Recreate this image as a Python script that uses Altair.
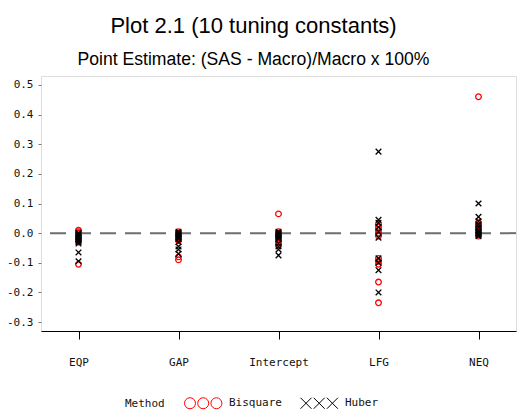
import altair as alt
import pandas as pd

parameters = ["EQP", "GAP", "Intercept", "LFG", "NEQ"]
methods = ["Bisquare", "Huber"]

# 10 tuning constants per parameter and method
bisquare_eqp = [0.01, 0.005, 0.0, -0.005, -0.01, -0.015, -0.02, -0.02, -0.03, -0.105]
huber_eqp = [0.0, -0.005, -0.01, -0.015, -0.02, -0.025, -0.03, -0.035, -0.065, -0.095]
bisquare_gap = [0.005, 0.0, -0.005, -0.01, -0.01, -0.015, -0.02, -0.025, -0.08, -0.09]
huber_gap = [0.005, 0.0, -0.005, -0.01, -0.015, -0.02, -0.03, -0.045, -0.055, -0.07]
bisquare_int = [0.065, 0.005, 0.0, -0.005, -0.005, -0.01, -0.015, -0.02, -0.03, -0.04]
huber_int = [0.005, 0.0, -0.005, -0.01, -0.015, -0.02, -0.035, -0.045, -0.055, -0.075]
bisquare_lfg = [0.03, 0.02, 0.01, 0.0, -0.01, -0.085, -0.095, -0.105, -0.165, -0.235]
huber_lfg = [0.275, 0.045, 0.035, 0.02, 0.005, -0.015, -0.085, -0.1, -0.125, -0.2]
bisquare_neq = [0.46, 0.035, 0.025, 0.02, 0.015, 0.01, 0.005, 0.0, -0.005, -0.01]
huber_neq = [0.1, 0.055, 0.04, 0.03, 0.02, 0.01, 0.005, 0.0, -0.005, -0.01]

y_ticks = [-0.3, -0.2, -0.1, 0.0, 0.1, 0.2, 0.3, 0.4, 0.5]

series = {
    ("EQP", "Bisquare"): bisquare_eqp, ("EQP", "Huber"): huber_eqp,
    ("GAP", "Bisquare"): bisquare_gap, ("GAP", "Huber"): huber_gap,
    ("Intercept", "Bisquare"): bisquare_int, ("Intercept", "Huber"): huber_int,
    ("LFG", "Bisquare"): bisquare_lfg, ("LFG", "Huber"): huber_lfg,
    ("NEQ", "Bisquare"): bisquare_neq, ("NEQ", "Huber"): huber_neq,
}
rows = []
for (p, m), vals in series.items():
    for v in vals:
        rows.append({"Parameter": p, "Method": m, "Value": v})
df = pd.DataFrame(rows)

MONO = "DejaVu Sans Mono"
X_PATH = "M-1,-1L1,1M-1,1L1,-1"
CIRC3 = ("M-1,0A1,1 0 1,0 1,0A1,1 0 1,0 -1,0"
         "M1.4,0A1,1 0 1,0 3.4,0A1,1 0 1,0 1.4,0"
         "M3.8,0A1,1 0 1,0 5.8,0A1,1 0 1,0 3.8,0")
X3 = ("M-1,-1L1,1M-1,1L1,-1"
      "M1.4,-1L3.4,1M1.4,1L3.4,-1"
      "M3.8,-1L5.8,1M3.8,1L5.8,-1")

ydom = [-0.33, 0.53]
colors = ["#ff0000", "#000000"]

y_scale = alt.Scale(domain=ydom, nice=False, zero=False)
y_axis = alt.Axis(title=None, values=y_ticks, grid=False, domain=False,
                  tickSize=3, tickColor="#777", labelOverlap=False,
                  labelExpr="replace(format(datum.value, '.1f'), '\u2212', '-')",
                  labelPadding=5, labelFont=MONO, labelFontSize=11,
                  labelColor="#111")

x_enc = alt.X("Parameter:N", sort=parameters,
              scale=alt.Scale(type="point", padding=0.375),
              axis=alt.Axis(title=None, labelAngle=0, tickSize=8, tickColor="black",
                            domainColor="black", domainWidth=1, labelPadding=17,
                            labelFont=MONO, labelFontSize=11, labelColor="#111"))
y_enc = alt.Y("Value:Q", scale=y_scale, axis=y_axis)

leg = alt.Legend(
    orient="none", legendX=84, legendY=321, direction="horizontal",
    title="Method", titleOrient="left", titlePadding=19,
    titleFont=MONO, titleFontSize=11, titleFontWeight="normal",
    titleColor="#111", labelFont=MONO, labelFontSize=11,
    labelColor="#111", symbolSize=121, symbolStrokeWidth=1, symbolOpacity=1,
    labelOffset=33, columnPadding=16,
)

rule = alt.Chart(pd.DataFrame({"y": [0.0]})).mark_rule(
    color="#6e6e6e", strokeWidth=2, strokeDash=[16, 9]
).encode(y=alt.Y("y:Q", scale=y_scale, axis=y_axis))

points = alt.Chart(df).mark_point(filled=False, size=32, strokeWidth=1.3, opacity=1).encode(
    x=x_enc, y=y_enc,
    color=alt.Color("Method:N", scale=alt.Scale(domain=methods, range=colors), legend=None),
    shape=alt.Shape("Method:N", scale=alt.Scale(domain=methods, range=["circle", X_PATH]),
                    legend=None),
)

legend_layer = alt.Chart(df).mark_point(filled=False, size=0, opacity=0).encode(
    x=x_enc, y=y_enc,
    color=alt.Color("Method:N", scale=alt.Scale(domain=methods, range=colors), legend=leg),
    shape=alt.Shape("Method:N", scale=alt.Scale(domain=methods, range=[CIRC3, X3]), legend=leg),
)

chart = alt.layer(rule, points, legend_layer).resolve_scale(
    shape="independent", color="independent"
).properties(
    width=475, height=255,
    autosize=alt.AutoSizeParams(type="none"),
    padding={"left": 41, "top": 76, "right": 1, "bottom": 81},
    title=alt.TitleParams(
        text="Plot 2.1 (10 tuning constants)",
        subtitle="Point Estimate: (SAS - Macro)/Macro x 100%",
        font="Liberation Sans", fontSize=22, fontWeight="normal", color="black",
        subtitleFont="Liberation Sans", subtitleFontSize=17.6, subtitleColor="black",
        subtitlePadding=13, offset=6, anchor="middle", frame="group", dx=-25,
    ),
).configure_view(stroke="#808080", strokeWidth=2).configure(background="white")

chart.save("out.html", embed_options={"renderer": "svg", "actions": False})
